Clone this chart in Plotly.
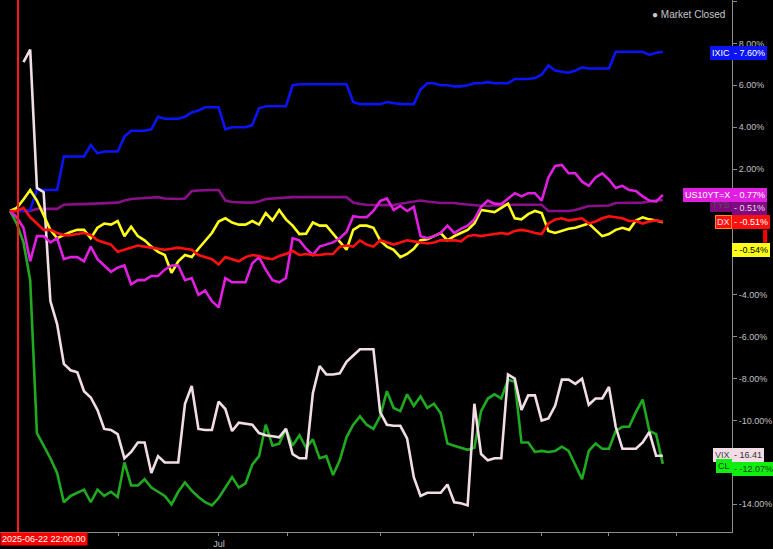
import plotly.graph_objects as go

# x positions are bar indices (about two bars per trading day)
n_points = 98
x_idx = list(range(n_points))

ixic = [0, 0, 0, 0.05, 1.0, 1.0, 1.0, 1.0, 2.6, 2.6, 2.6, 2.6, 3.15, 2.75, 2.84, 2.84, 2.84, 3.55, 3.83, 3.83,
        3.83, 3.9, 4.5, 4.4, 4.4, 4.4, 4.5, 4.7, 4.8, 4.95, 4.95, 4.95, 3.9, 4.0, 4.0, 4.0, 4.1, 4.9, 5.0, 5.0,
        5.0, 5.0, 6.0, 6.05, 6.05, 6.05, 6.05, 6.05, 6.05, 6.05, 6.05, 5.2, 5.1, 5.1, 5.1, 5.1, 5.2, 5.15, 5.1, 5.1,
        5.1, 5.8, 6.1, 6.1, 6.0, 6.0, 5.95, 5.95, 6.0, 6.1, 6.1, 6.15, 6.1, 6.1, 6.1, 6.3, 6.3, 6.3, 6.35, 6.5,
        6.95, 6.7, 6.65, 6.6, 6.7, 6.85, 6.8, 6.8, 6.8, 6.8, 7.6, 7.6, 7.6, 7.6, 7.6, 7.45, 7.55, 7.6]

tys = [0, 0, 0, 0, 0.1, 0.1, 0.1, 0.1, 0.3, 0.33, 0.33, 0.33, 0.35, 0.35, 0.38, 0.38, 0.4, 0.5, 0.57, 0.6,
       0.62, 0.66, 0.66, 0.6, 0.58, 0.57, 0.6, 0.95, 0.98, 1.0, 1.0, 1.0, 0.5, 0.43, 0.4, 0.4, 0.4, 0.45, 0.57, 0.6,
       0.62, 0.66, 0.66, 0.66, 0.66, 0.66, 0.66, 0.66, 0.66, 0.66, 0.66, 0.4, 0.33, 0.3, 0.28, 0.28, 0.28, 0.28, 0.35, 0.4,
       0.45, 0.5, 0.45, 0.4, 0.38, 0.38, 0.38, 0.33, 0.3, 0.28, 0.25, 0.25, 0.25, 0.28, 0.3, 0.3, 0.33, 0.33, 0.33, 0.3,
       0.0, 0.0, 0.0, 0.0, 0.05, 0.15, 0.24, 0.24, 0.24, 0.26, 0.38, 0.38, 0.38, 0.38, 0.4, 0.45, 0.5, 0.51]

us10y = [0, -0.3, -0.8, -2.4, -1.2, -1.2, -1.5, -1.3, -2.3, -2.2, -2.2, -2.4, -1.7, -2.3, -2.6, -2.9, -2.7, -2.6, -3.5, -3.3,
         -3.3, -3.1, -3.1, -2.8, -2.6, -2.6, -3.3, -3.2, -4.0, -3.8, -4.3, -4.6, -3.2, -3.4, -3.4, -3.4, -2.5, -2.2, -2.8, -3.3,
         -3.4, -3.2, -1.3, -1.4, -1.8, -2.1, -1.7, -1.6, -1.5, -1.3, -1.0, -0.25, -0.3, -0.3, 0.0, 0.47, 0.6, 0.05, 0.24, 0.0,
         0.2, -1.2, -1.3, -1.2, -1.05, -0.7, -1.05, -0.85, -0.7, -0.4, 0.2, 0.5, 0.35, 0.33, 0.6, 0.85, 0.7, 0.85, 0.85, 0.5,
         1.6, 2.15, 2.2, 1.8, 1.8, 1.4, 1.2, 1.6, 1.8, 1.5, 1.1, 1.2, 1.0, 0.95, 0.7, 0.5, 0.45, 0.77]

yellow = [0, 0.15, 0.55, 1.0, 0.5, -0.2, -0.9, -1.3, -1.15, -1.0, -0.9, -0.9, -1.3, -0.8, -0.6, -0.65, -0.48, -1.2, -0.75, -1.2,
          -1.4, -1.7, -1.95, -2.1, -2.95, -2.4, -2.1, -2.2, -1.8, -1.4, -1.05, -0.5, -0.35, -0.55, -0.65, -0.65, -0.48, -0.65, -0.1, -0.45,
          0.05, -0.4, -0.7, -1.1, -1.08, -0.55, -0.7, -0.7, -1.1, -1.5, -1.85, -0.9, -0.7, -0.7, -0.8, -1.4, -1.7, -1.85, -2.2, -2.05,
          -1.8, -1.4, -1.35, -1.2, -1.05, -1.4, -1.2, -1.05, -0.9, -0.6, 0.05, 0.0, -0.05, 0.15, 0.35, -0.35, -0.4, -0.15, 0.0, -0.1,
          -0.95, -1.05, -0.95, -0.85, -0.8, -0.7, -0.6, -0.9, -1.2, -1.1, -0.9, -0.8, -0.9, -0.45, -0.3, -0.4, -0.45, -0.54]

dx = [0, 0, 0.15, -0.3, -0.6, -0.9, -0.9, -1.05, -1.15, -1.15, -1.1, -1.05, -1.15, -1.4, -1.5, -1.6, -1.95, -1.85, -1.75, -1.65,
      -1.7, -1.75, -1.8, -1.85, -1.8, -1.75, -1.8, -1.85, -2.1, -2.2, -2.3, -2.55, -2.2, -2.3, -2.4, -2.2, -2.1, -2.15, -2.25, -2.3,
      -2.15, -2.05, -1.9, -2.1, -2.05, -2.1, -2.1, -2.05, -2.05, -1.7, -1.65, -1.7, -1.4, -1.6, -1.7, -1.4, -1.5, -1.6, -1.5, -1.4,
      -1.45, -1.5, -1.55, -1.5, -1.4, -1.4, -1.4, -1.45, -1.2, -1.15, -1.2, -1.15, -1.1, -1.05, -1.1, -0.95, -0.9, -0.95, -1.05, -1.1,
      -0.6, -0.4, -0.35, -0.45, -0.4, -0.35, -0.6, -0.5, -0.35, -0.25, -0.3, -0.35, -0.48, -0.48, -0.6, -0.5, -0.45, -0.51]

cl = [0, -0.6, -1.5, -3.3, -10.6, -11.2, -11.8, -12.5, -13.9, -13.6, -13.45, -13.3, -13.9, -13.3, -13.6, -13.4, -13.65, -12.0, -13.1, -13.1,
      -12.8, -13.2, -13.4, -13.6, -14.0, -13.4, -12.95, -13.35, -13.65, -13.9, -14.05, -13.7, -13.2, -12.7, -13.2, -13.0, -12.1, -11.7, -10.2, -11.2,
      -11.1, -10.4, -11.2, -10.7, -11.3, -10.9, -11.8, -11.7, -12.6, -11.9, -10.8, -10.2, -9.8, -10.2, -10.4, -9.8, -8.6, -9.4, -9.55, -8.75,
      -9.3, -8.85, -9.4, -9.2, -9.65, -11.1, -11.2, -11.3, -11.4, -11.3, -9.55, -8.95, -8.75, -8.95, -8.05, -8.15, -11.05, -11.05, -11.5, -11.45,
      -11.5, -11.45, -11.25, -11.45, -12.1, -12.8, -11.45, -11.1, -11.35, -11.35, -10.5, -10.3, -10.3, -9.6, -9.0, -10.5, -10.65, -12.07]

vix = [None, None, 7.1, 7.7, 1.1, 0.9, -4.3, -5.4, -7.3, -7.6, -7.7, -8.6, -8.9, -9.5, -10.4, -10.45, -10.65, -11.8, -11.5, -11.05,
       -11.05, -12.5, -11.7, -12.0, -12.0, -12.0, -9.2, -8.35, -10.4, -10.45, -10.45, -9.1, -9.45, -10.5, -10.1, -10.15, -10.2, -10.6, -10.7, -10.75,
       -10.8, -10.4, -11.6, -11.8, -11.8, -8.7, -7.4, -7.8, -7.8, -7.75, -7.2, -6.9, -6.6, -6.6, -6.6, -9.6, -10.2, -10.25, -10.25, -10.85,
       -12.7, -13.6, -13.45, -13.45, -13.45, -13.05, -13.9, -13.95, -14.05, -9.2, -11.6, -11.9, -11.8, -11.8, -7.8, -8.0, -9.5, -8.8, -8.8, -10.0,
       -9.9, -9.3, -8.05, -8.05, -8.25, -8.0, -9.25, -8.95, -8.95, -8.4, -10.3, -11.35, -11.35, -11.35, -11.05, -10.55, -11.68, -11.68]

# x-axis ticks (bar index) and labels
tick_pos = [16.05, 31.05, 41.2, 55.0, 68.9, 78.9, 88.9, 99.0]
tick_text = ["", "Jul", "", "", "", "", "", ""]

# y-axis tick labels that are not hidden behind the price labels
y_tickvals = [-14, -10, -8, -6, -4, 2, 4, 6, 8, 10]
y_ticktext = ["-14.00%", "-10.00%", "-8.00%", "-6.00%", "-4.00%", "2.00%", "4.00%", "6.00%", "8.00%", "10.00%"]

crosshair_x = 1.19
crosshair_label = "2025-06-22 22:00:00"

series = [
    ("TYS", tys, "#8a108a"),
    ("IXIC", ixic, "#0a14f5"),
    ("CL", cl, "#1faa1f"),
    ("VIX", vix, "#f2dde6"),
    ("^TNX", yellow, "#ffff1a"),
    ("US10YT=X", us10y, "#e01fe0"),
    ("DX", dx, "#ff1010"),
]

fig = go.Figure()
for name, vals, col in series:
    fig.add_trace(go.Scatter(x=x_idx, y=vals, mode="lines", name=name,
                             line=dict(color=col, width=2.6), hoverinfo="skip"))

fig.add_shape(type="line", xref="x", yref="paper", x0=crosshair_x, x1=crosshair_x,
              y0=0, y1=1, line=dict(color="#ff1a1a", width=2))

ann = []
lab_font = "Liberation Sans, Arial, sans-serif"


def box(text, y, bg, fg, side, size=9, border=None):
    ann.append(dict(xref="paper", yref="y", x=1.0, y=y, text=text, showarrow=False,
                    xanchor="right" if side == "name" else "left", yanchor="middle",
                    bgcolor=bg, bordercolor=border if border else bg, borderwidth=1,
                    borderpad=1, font=dict(family=lab_font, size=size, color=fg)))


box("TYS", 0.28, "#7a0a7a", "#5c4a5c", "name")
box("- 0.51%", 0.14, "#800a80", "#e8d8e8", "value")
box("IXIC", 7.52, "#0a14f5", "#ffffff", "name")
box("- 7.60%", 7.52, "#0a14f5", "#ffffff", "value")
box("US10YT=X", 0.76, "#e01fe0", "#ffffff", "name")
box("- 0.77%", 0.76, "#e01fe0", "#ffffff", "value")
box("DX", -0.52, "#ff1010", "#ffe0e0", "name", border="#ff8c1a")
box("- -0.51%", -0.52, "#ff1010", "#ffffff", "value")
box("- -0.54%", -1.84, "#ffff1a", "#000000", "value")
box("VIX", -11.63, "#f2dde6", "#444444", "name")
box("- 16.41", -11.63, "#f2dde6", "#333333", "value")
box("CL", -12.15, "#10ee10", "#104010", "name")
box("- -12.07%", -12.29, "#10ee10", "#104010", "value")

ann.append(dict(xref="paper", yref="paper", x=0.0, y=0.0, text=crosshair_label, showarrow=False,
                xanchor="left", yanchor="top", bgcolor="#ff0000", borderpad=1,
                font=dict(family=lab_font, size=9, color="#ffffff")))
ann.append(dict(xref="paper", yref="paper", x=0.993, y=0.972, text="● Market Closed", showarrow=False,
                xanchor="right", yanchor="middle",
                font=dict(family=lab_font, size=10, color="#c8c8c8")))

# small red marker box under the DX label
fig.add_shape(type="rect", xref="paper", yref="y", x0=1.0425, x1=1.048, y0=-1.51, y1=-0.9,
              fillcolor="#ff0000", line=dict(width=0))

fig.update_layout(
    width=773, height=549,
    margin=dict(l=0, r=41, t=0, b=12),
    paper_bgcolor="#000000", plot_bgcolor="#000000",
    showlegend=False, hovermode=False,
    annotations=ann,
    xaxis=dict(range=[-1.486, 107.28], tickvals=tick_pos, ticktext=tick_text,
               showgrid=False, zeroline=False, showline=True, linecolor="#8c8c8c", linewidth=1,
               ticks="outside", ticklen=3, tickcolor="#8c8c8c",
               tickfont=dict(family=lab_font, size=9, color="#c0c0c0"), fixedrange=True),
    yaxis=dict(range=[-15.32, 10.07], side="right", tickvals=y_tickvals, ticktext=y_ticktext,
               showgrid=False, zeroline=False, showline=True, linecolor="#8c8c8c", linewidth=1,
               ticks="outside", ticklen=4, tickcolor="#8c8c8c",
               tickfont=dict(family=lab_font, size=9, color="#c0c0c0"), fixedrange=True),
)

fig.write_html("out.html", config={"displayModeBar": False},
               post_script="document.body.style.margin='0';document.body.style.background='#000';")
